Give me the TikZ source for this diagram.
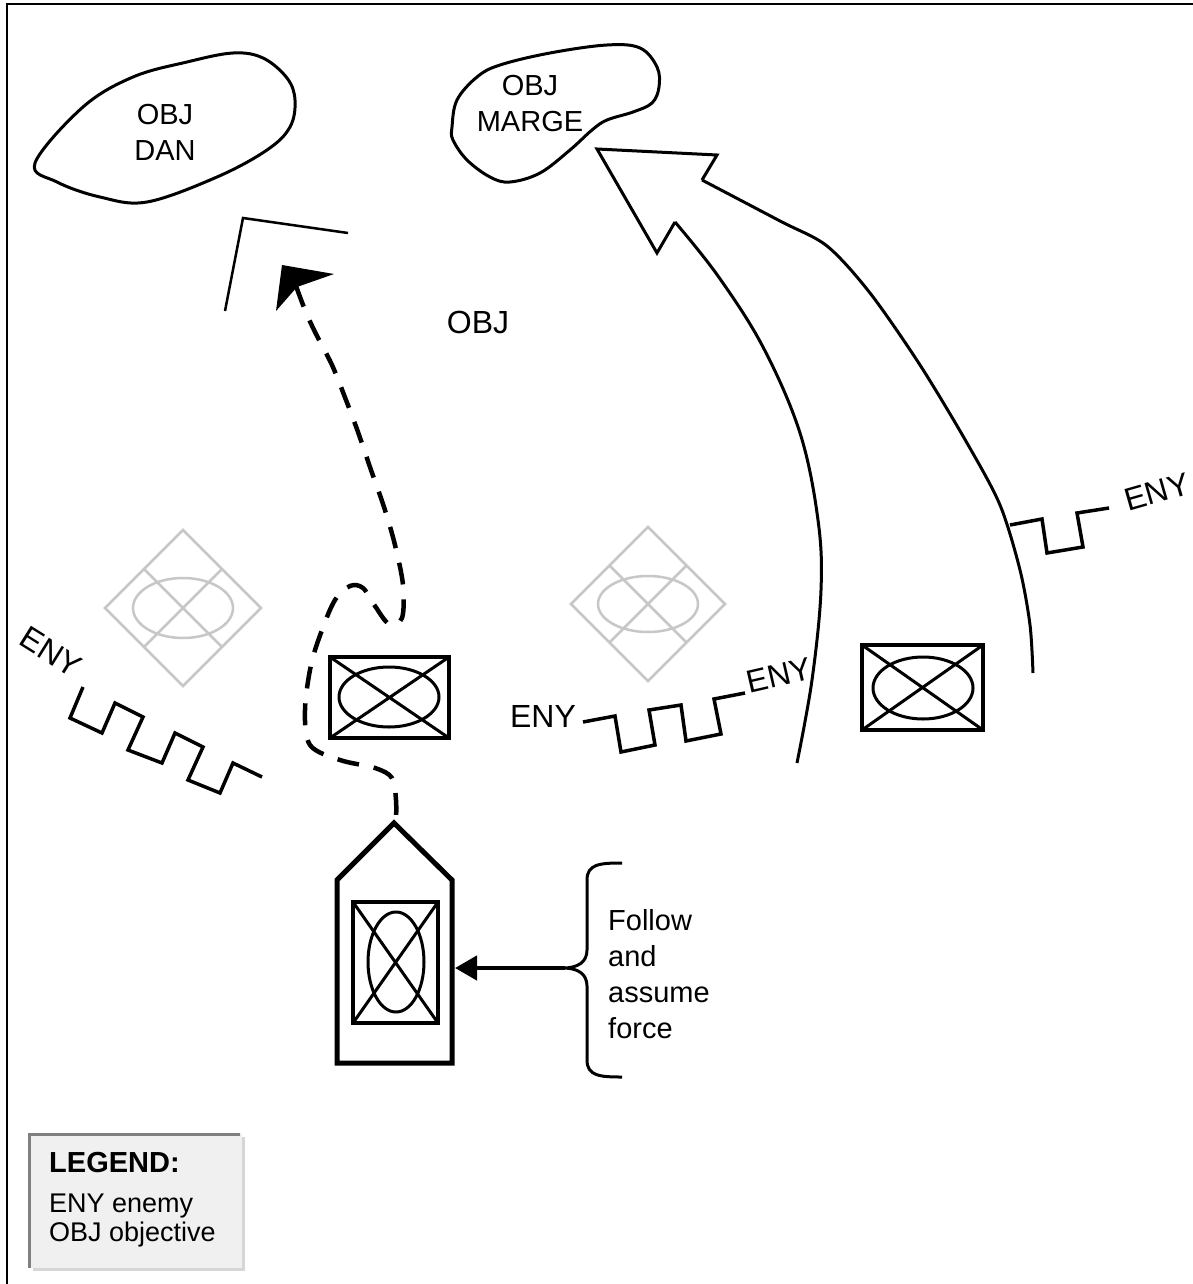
\documentclass[tikz,border=0pt]{standalone}
\usepackage{fontspec}
\setmainfont{Liberation Sans}
\usetikzlibrary{arrows.meta}
\begin{document}
\begin{tikzpicture}[x=1pt,y=-1pt,
  blob/.style={line width=3pt, line join=round},
  lbl/.style={font=\fontsize{29}{36}\selectfont, align=center, inner sep=0pt},
  bigtxt/.style={font=\fontsize{32}{38}\selectfont, inner sep=0pt},
  zig/.style={line width=3.5pt, line join=miter},
  greysym/.style={draw=black!22, line width=2.5pt},
  infline/.style={line width=3pt},
  dashpath/.style={line width=4.5pt, dash pattern=on 22pt off 15pt},
  arc/.style={line width=3pt, line join=miter},
]
\useasboundingbox (0,0) rectangle (1193,1284);
\fill[white] (0,0) rectangle (1193,1284);
\draw[line width=2pt] (7,1300) -- (7,4) -- (1210,4);

% OBJ DAN
\draw[blob] plot[smooth cycle, tension=0.6] coordinates {(35,163)(83,107)(133,77)(187,62)(233,53)(263,58)(287,78)(295,100)(290,127)(267,150)(217,177)(147,202)(100,197)(57,182)};
\node[lbl] (dan) at (165,132) {OBJ\\DAN};

% OBJ MARGE
\draw[blob] plot[smooth cycle, tension=0.6] coordinates {(452,127)(457,100)(477,77)(500,65)(550,53)(607,45)(640,48)(657,67)(659,87)(652,103)(633,112)(607,120)(592,130)(570,150)(540,173)(510,182)(490,177)(467,160)(453,140)};
\node[lbl] (marge) at (530,104) {OBJ\\MARGE};

% objective bracket
\draw[line width=2.5pt, line join=miter] (225,311) -- (243,218) -- (348,233);
\node[bigtxt] (obj) at (478,322) {OBJ};

% dashed route with head
\fill (282,265) -- (334,274) -- (297,287) -- (276,311) -- cycle;
\draw[dashpath] plot[smooth, tension=0.55] coordinates {(296,286)(305,310)(315,332)(332,365)(346,400)(358,432)(371,470)(384,507)(395,545)(403,585)(402,618)(389,624)(375,606)(363,588)(350,586)(335,600)(322,630)(311,665)(305,710)(310,745)(340,760)(375,768)(392,778)(396,800)(396,822)};

% grey diamonds
\begin{scope}[shift={(183,608)}]
  \draw[greysym] (-78,0) -- (0,-78) -- (78,0) -- (0,78) -- cycle;
  \draw[greysym] (-39,-39) -- (39,39) (39,-39) -- (-39,39);
  \draw[greysym] (0,0) ellipse [x radius=50pt, y radius=30pt];
\end{scope}
\begin{scope}[shift={(648,604)}]
  \draw[greysym] (-77,0) -- (0,-77) -- (77,0) -- (0,77) -- cycle;
  \draw[greysym] (-38.5,-38.5) -- (38.5,38.5) (38.5,-38.5) -- (-38.5,38.5);
  \draw[greysym] (0,0) ellipse [x radius=50pt, y radius=28pt];
\end{scope}

% infantry boxes
\draw[line width=4pt] (330,657) rectangle (449,738);
\draw[infline] (330,657) -- (449,738) (449,657) -- (330,738);
\draw[infline] (389,697) ellipse [x radius=50pt, y radius=30pt];
\draw[line width=4pt] (862,645) rectangle (983,730);
\draw[infline] (862,645) -- (983,730) (983,645) -- (862,730);
\draw[infline] (923,688) ellipse [x radius=50pt, y radius=31pt];

% enemy lines
\draw[zig] (83,687) -- (70,718) -- (102,733) -- (115,703) -- (143,717) -- (128,750) -- (162,763) -- (175,733) -- (203,747) -- (188,780) -- (220,793) -- (233,763) -- (262,777);
\node[bigtxt, rotate=-32] (enyl) at (51,652) {ENY};
\draw[zig] (583,722) -- (615,716) -- (621,752) -- (655,745) -- (649,710) -- (681,705) -- (686,741) -- (721,734) -- (714,699) -- (745,693);
\node[bigtxt] (enym) at (543,716) {ENY};
\node[bigtxt, rotate=13] (enyc) at (779,675) {ENY};
\draw[zig] (1010,525) -- (1042,519) -- (1047,553) -- (1083,547) -- (1077,513) -- (1109,508);
\node[bigtxt, rotate=16] (enyr) at (1157,492) {ENY};

% big attack arrow
\draw[arc] plot[smooth, tension=0.6] coordinates {(797,763)(812,680)(821,590)(818,520)(800,433)(763,347)(718,276)(675,222)};
\draw[arc] (675,222) -- (657,253) -- (597,149) -- (717,155) -- (702,180);
\draw[arc] plot[smooth, tension=0.5] coordinates {(702,180)(780,221)(827,246)(870,293)(920,365)(967,443)(1000,505)(1020,570)(1030,625)(1033,673)};

% follow and assume unit
\draw[line width=5pt, line join=miter] (337,1063) -- (337,880) -- (394,823) -- (452,880) -- (452,1063) -- cycle;
\draw[line width=3.5pt] (353,902) rectangle (438,1023);
\draw[infline] (353,902) -- (438,1023) (438,902) -- (353,1023);
\draw[infline] (396,962) ellipse [x radius=28pt, y radius=50pt];
\draw[line width=4.5pt, -{Triangle[length=22pt,width=24pt]}] (565,968) -- (455,968);
\draw[line width=3pt] (622,863) .. controls (600,863) and (587,864) .. (587,880) -- (587,950) .. controls (587,962) and (578,968) .. (563,968) .. controls (578,968) and (587,974) .. (587,986) -- (587,1060) .. controls (587,1076) and (600,1077) .. (622,1077);
\node[anchor=north west, align=left, font=\fontsize{29}{36}\selectfont, inner sep=0pt] (follow) at (608,909) {Follow\\and\\assume\\force};

% legend
\fill[black!6] (28,1133) rectangle (242,1268);
\draw[line width=3pt, black!50] (29.5,1268) -- (29.5,1134.5) -- (240,1134.5);
\draw[line width=2.5pt, black!16] (243.5,1137) -- (243.5,1269.5) -- (33,1269.5);
\node[anchor=base west, font=\bfseries\fontsize{29}{34}\selectfont, inner sep=0pt] (legtitle) at (49,1172) {LEGEND:};
\node[anchor=base west, font=\fontsize{27}{30}\selectfont, inner sep=0pt] (legeny) at (49,1212) {ENY enemy};
\node[anchor=base west, font=\fontsize{27}{30}\selectfont, inner sep=0pt] (legobj) at (49,1241) {OBJ objective};
\end{tikzpicture}
\end{document}
